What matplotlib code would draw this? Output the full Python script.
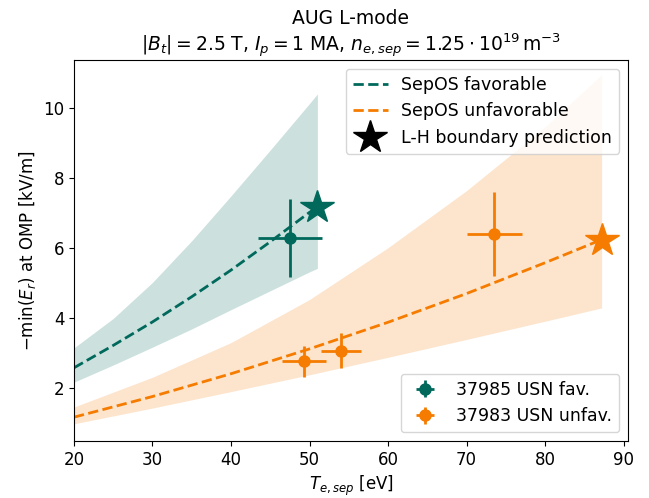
import matplotlib
matplotlib.use("Agg")
import matplotlib.pyplot as plt
from matplotlib.lines import Line2D

TEAL = "#00695c"
ORANGE = "#f57c00"

plt.rcParams["font.size"] = 12

# SepOS favorable prediction (curve + band)
fav_te = [20, 25, 30, 35, 40, 45, 50, 51]
fav_er = [2.58, 3.22, 3.89, 4.61, 5.37, 6.18, 7.02, 7.16]
fav_lo = [2.17, 2.66, 3.17, 3.69, 4.24, 4.78, 5.32, 5.42]
fav_hi = [3.15, 3.99, 5.02, 6.21, 7.49, 8.80, 10.13, 10.40]

# SepOS unfavorable prediction
unf_te = [20, 30, 40, 50, 60, 70, 80, 87.2]
unf_er = [1.17, 1.76, 2.41, 3.12, 3.88, 4.70, 5.58, 6.24]
unf_lo = [0.98, 1.43, 1.90, 2.38, 2.88, 3.39, 3.91, 4.29]
unf_hi = [1.46, 2.31, 3.30, 4.53, 6.01, 7.64, 9.46, 10.95]

# L-H boundary predictions (stars)
lh_fav = (51.0, 7.16)
lh_unf = (87.2, 6.24)

# measurements
fav_meas_te = [47.55]
fav_meas_er = [6.29]
fav_meas_xerr = [4.1]
fav_meas_yerr = [1.11]

unf_meas_te = [49.25, 54.0, 73.5]
unf_meas_er = [2.76, 3.07, 6.39]
unf_meas_xerr = [2.8, 2.55, 3.5]
unf_meas_yerr = [0.44, 0.51, 1.2]

fig = plt.figure(figsize=(6.49, 4.98), dpi=100)
ax = fig.add_axes([0.114, 0.1145, 0.8536, 0.765])

ax.fill_between(fav_te, fav_lo, fav_hi, color=TEAL, alpha=0.2, lw=0)
ax.fill_between(unf_te, unf_lo, unf_hi, color=ORANGE, alpha=0.2, lw=0)
ax.plot(fav_te, fav_er, "--", color=TEAL, lw=2)
ax.plot(unf_te, unf_er, "--", color=ORANGE, lw=2)
ax.plot(*lh_fav, "*", color=TEAL, ms=25)
ax.plot(*lh_unf, "*", color=ORANGE, ms=25)

e1 = ax.errorbar(fav_meas_te, fav_meas_er, xerr=fav_meas_xerr, yerr=fav_meas_yerr,
                 fmt="o", color=TEAL, ms=8, elinewidth=2, label="37985 USN fav.")
e2 = ax.errorbar(unf_meas_te, unf_meas_er, xerr=unf_meas_xerr, yerr=unf_meas_yerr,
                 fmt="o", color=ORANGE, ms=8, elinewidth=2, label="37983 USN unfav.")

ax.set_xlim(left=20)
ax.set_ylim(0.49, 11.37)
ax.set_xlabel(r"$T_{e,sep}$ [eV]")
ax.set_ylabel(r"$-\min(E_r)$ at OMP [kV/m]")
ax.set_title("AUG L-mode\n"
             r"$|B_t| = 2.5$ T, $I_p = 1$ MA, $n_{e,sep} = 1.25 \cdot 10^{19}\,\mathrm{m}^{-3}$",
             fontsize=13.5)

handles = [
    Line2D([], [], ls="--", color=TEAL, lw=2),
    Line2D([], [], ls="--", color=ORANGE, lw=2),
    Line2D([], [], ls="", marker="*", color="black", ms=25),
]
leg1 = ax.legend(handles, ["SepOS favorable", "SepOS unfavorable", "L-H boundary prediction"],
                 loc="upper right", fontsize=12.5)
ax.add_artist(leg1)
ax.legend(handles=[e1, e2], loc="lower right", fontsize=12.5)

fig.savefig("out.png", dpi=100)
